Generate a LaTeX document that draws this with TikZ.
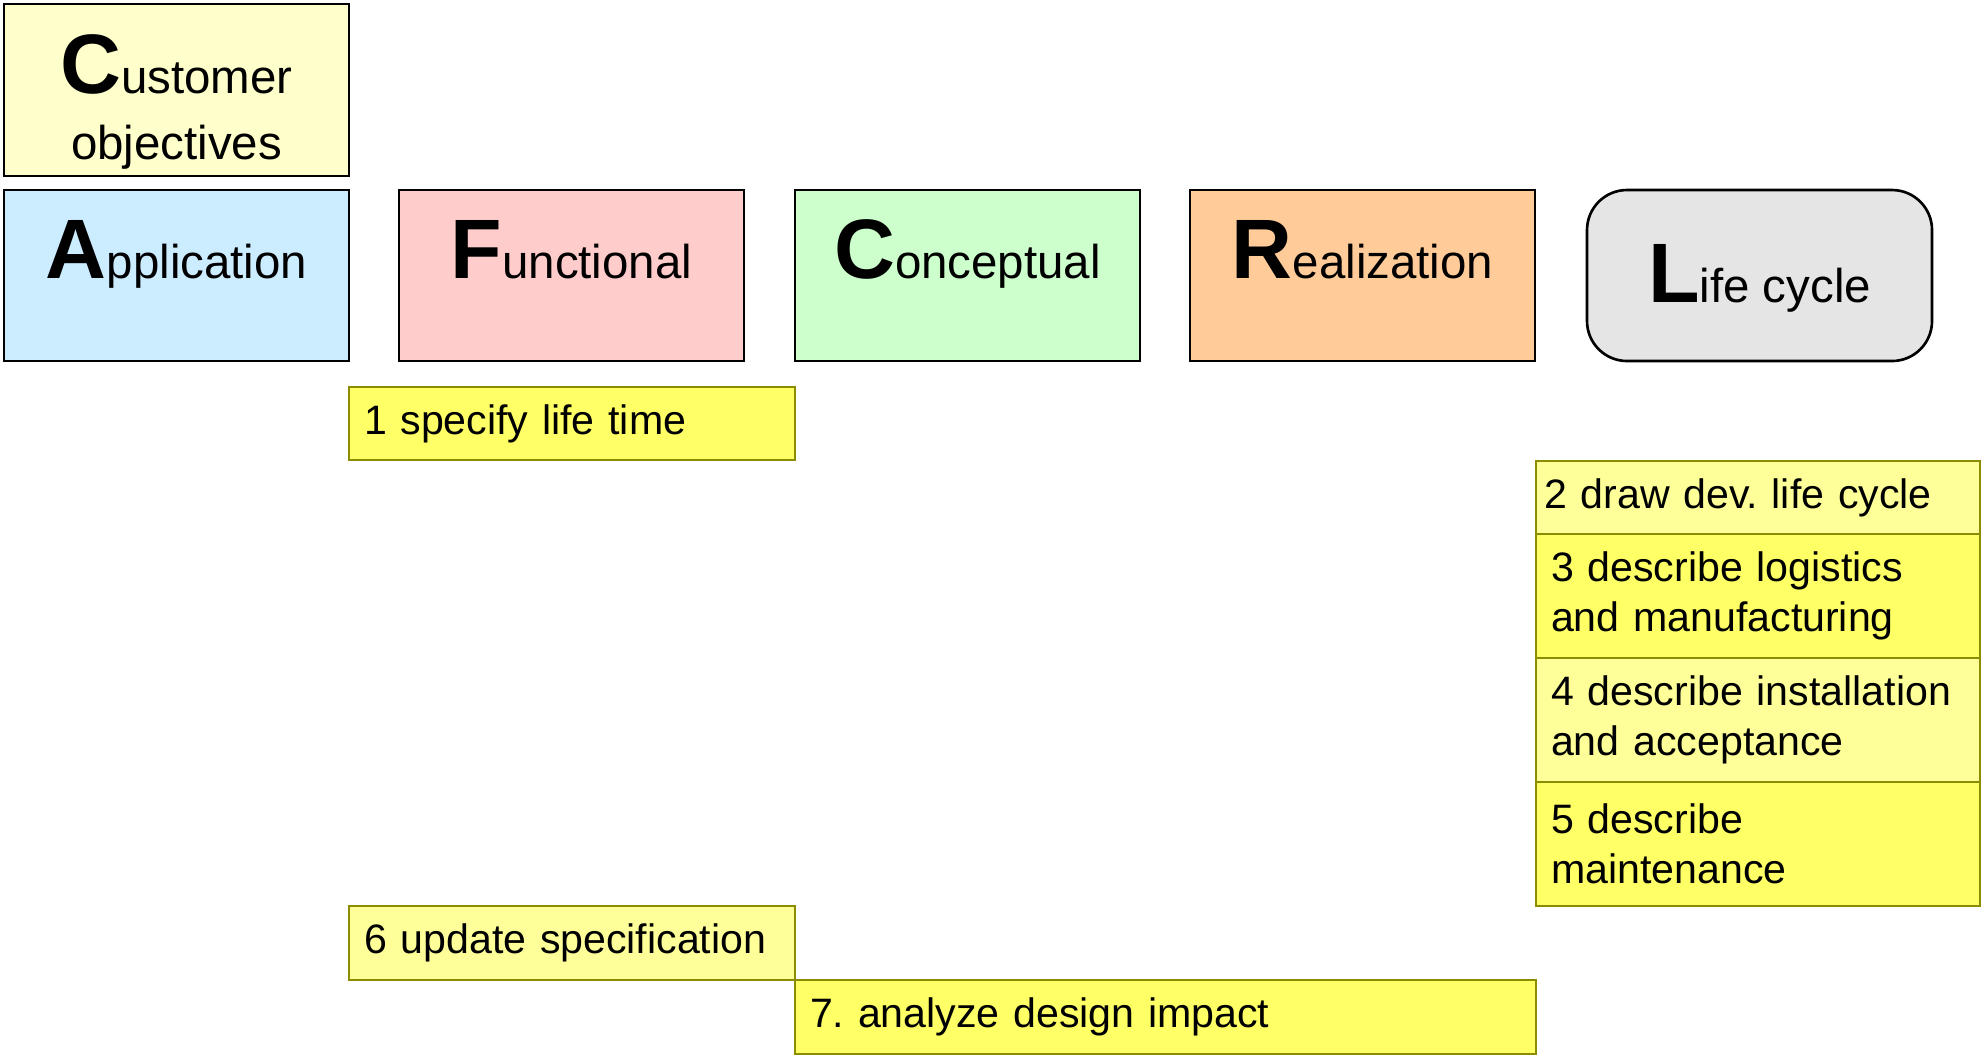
\documentclass[tikz,border=0pt]{standalone}
\usepackage{fontspec}
\setmainfont{Liberation Sans}
\usetikzlibrary{positioning}
\frenchspacing

\definecolor{custfill}{HTML}{FFFFCC}
\definecolor{appfill}{HTML}{CCECFF}
\definecolor{funfill}{HTML}{FFCCCC}
\definecolor{confill}{HTML}{CCFFCC}
\definecolor{reafill}{HTML}{FFCC99}
\definecolor{lifefill}{HTML}{E5E5E5}
\definecolor{taskdark}{HTML}{FFFF66}
\definecolor{tasklight}{HTML}{FFFF99}
\definecolor{taskline}{RGB}{140,140,0}

% big bold initial followed by the rest of the word
\newcommand{\capword}[2]{{\fontsize{24}{24}\selectfont\bfseries #1}#2}

\begin{document}
\begin{tikzpicture}[
    head/.style={rectangle, draw, line width=0.75pt, anchor=north west, outer sep=0pt, minimum width=3.45cm,
        inner xsep=0pt, inner ysep=0.1cm, text height=0.78cm, text depth=0.73cm, align=center,
        font=\fontsize{13.5}{18.7}\selectfont},
    task/.style={rectangle, draw=taskline, line width=0.75pt, anchor=north west, outer sep=0pt, align=left,
        inner xsep=0.15cm, inner ysep=0pt, font=\fontsize{11.7}{14.2}\selectfont},
    short/.style={task, minimum height=0.73cm},
    tall/.style={task, minimum height=1.24cm}
]
\useasboundingbox (0,0) rectangle (19.81,-10.55);

% the CAFCR views
\node[head, fill=custfill, text height=1.45cm, text depth=0.07cm, minimum height=1.72cm] (cust) at (0.04,-0.04) {\capword{C}{ustomer}\\objectives};
\node[head, fill=appfill] (app) at (0.04,-1.90) {\capword{A}{pplication}};
\node[head, fill=funfill] (fun) at (3.99,-1.90) {\capword{F}{unctional}};
\node[head, fill=confill] (con) at (7.95,-1.90) {\capword{C}{onceptual}};
\node[head, fill=reafill] (rea) at (11.90,-1.90) {\capword{R}{ealization}};
\node[head, fill=lifefill, rounded corners=0.4cm, text height=1.02cm, text depth=0.49cm] (life) at (15.87,-1.90) {\capword{L}{ife cycle}};

% steps
\node[short, fill=taskdark, text width=4.16cm] (t1) at (3.49,-3.87) {1 specify life time};
\node[short, fill=tasklight, text width=4.28cm, inner xsep=0.08cm] (t2) at (15.36,-4.61) {2 draw dev. life cycle};
\node[tall, fill=taskdark, text width=4.14cm] (t3) at (t2.south west) {3 describe logistics\\and manufacturing};
\node[tall, fill=tasklight, text width=4.14cm] (t4) at (t3.south west) {4 describe installation\\and acceptance};
\node[tall, fill=taskdark, text width=4.14cm] (t5) at (t4.south west) {5 describe\\maintenance};
\node[short, fill=tasklight, text width=4.16cm, minimum height=0.74cm] (t6) at (3.49,-9.06) {6 update specification};
\node[short, fill=taskdark, text width=7.11cm, minimum height=0.74cm] (t7) at (t6.south east) {7. analyze design impact};
\end{tikzpicture}
\end{document}
